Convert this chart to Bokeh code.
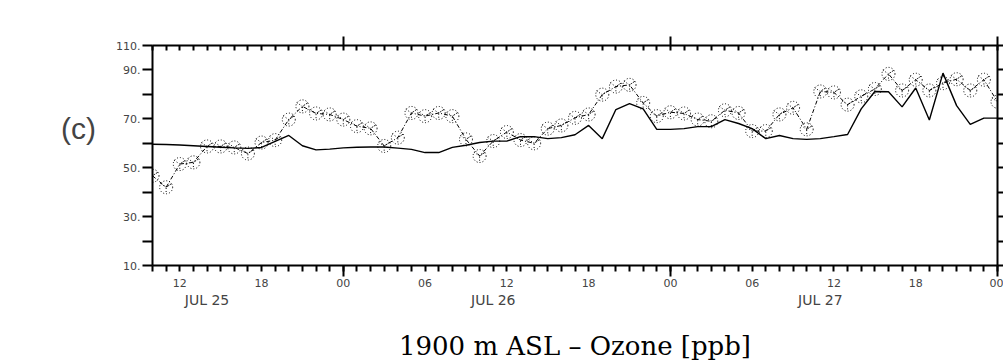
from bokeh.plotting import figure
from bokeh.models import FixedTicker, LinearAxis, Range1d
from bokeh.embed import file_html
from bokeh.resources import INLINE

# hours since JUL 25 00:00
hours = list(range(10, 73))
model = [59.6, 59.5, 59.3, 59.0, 58.7, 58.4, 58.1, 57.9, 58.3, 60.8,
         63.2, 59.0, 57.3, 57.6, 58.1, 58.4, 58.5, 58.5, 58.0, 57.5,
         56.2, 56.2, 58.3, 59.2, 60.3, 60.9, 60.9, 62.7, 62.7, 61.9,
         62.3, 63.5, 67.3, 61.9, 73.8, 76.2, 74.1, 65.7, 65.7, 66.0,
         66.8, 66.8, 69.7, 68.1, 66.0, 61.9, 63.2, 61.9, 61.6, 61.9,
         62.7, 63.6, 74.1, 81.2, 81.1, 74.9, 82.6, 69.5, 88.7, 75.4,
         67.7, 70.3, 70.3]
obs = [46.7, 42.0, 51.5, 52.2, 58.7, 58.7, 58.3, 55.8, 60.3, 61.3,
       69.7, 75.1, 72.2, 71.8, 69.7, 67.0, 66.1, 58.9, 62.3, 72.4,
       71.1, 72.4, 71.1, 61.6, 54.8, 60.9, 64.6, 61.3, 60.0, 66.0,
       67.3, 70.4, 71.8, 79.9, 83.2, 83.9, 76.5, 71.1, 72.7, 72.2,
       69.7, 69.0, 73.5, 72.4, 65.0, 65.0, 71.8, 74.5, 65.7, 81.2,
       80.8, 75.8, 79.2, 82.2, 88.4, 81.6, 86.0, 81.6, 84.6, 86.2,
       81.6, 86.0, 77.0]

y_ticks = [10, 30, 50, 70, 90, 100]
y_tick_labels = ["10.", "30.", "50.", "70.", "90.", "110."]
y_minor = [20, 40, 60, 80]
x_major = [12, 18, 24, 30, 36, 42, 48, 54, 60, 66, 72]
x_major_labels = ["12", "18", "00", "06", "12", "18", "00", "06", "12", "18", "00"]
x_midnights = [24, 48, 72]
day_pos = [14, 35, 59]
day_labels = ["JUL 25", "JUL 26", "JUL 27"]
title_text = "1900 m ASL \u2013 Ozone [ppb]"
panel_tag = "(c)"

p = figure(width=1003, height=363, x_range=Range1d(10, 72), y_range=Range1d(10, 100),
           output_backend="svg", toolbar_location=None,
           x_axis_location=None, y_axis_location=None,
           min_border_left=152, min_border_right=6, min_border_top=45, min_border_bottom=96)
p.xgrid.visible = False
p.ygrid.visible = False
p.outline_line_color = None
p.background_fill_color = "white"
p.border_fill_color = "white"

tick_font = "DejaVu Sans"


def blank(ticks):
    return {t: "" for t in ticks}


# left axis (the panel tag is its horizontal axis label, lifted by a blank 2nd line)
ya = LinearAxis(ticker=FixedTicker(ticks=y_ticks, minor_ticks=y_minor),
                major_label_overrides={t: l for t, l in zip(y_ticks, y_tick_labels)},
                major_tick_out=10, major_tick_in=0, minor_tick_out=10, minor_tick_in=0,
                axis_line_width=2, major_tick_line_width=2, minor_tick_line_width=2,
                major_label_text_font=tick_font, major_label_text_font_size="11px",
                major_label_standoff=2,
                axis_label=panel_tag + "\n ", axis_label_orientation="horizontal",
                axis_label_text_font="Liberation Sans", axis_label_text_font_size="30px",
                axis_label_text_font_style="normal", axis_label_text_line_height=1.65,
                axis_label_standoff=17)
p.add_layout(ya, "left")

# right axis
yr = LinearAxis(ticker=FixedTicker(ticks=y_ticks + y_minor, minor_ticks=[]),
                major_label_overrides=blank(y_ticks + y_minor),
                major_tick_out=6, major_tick_in=0, minor_tick_out=0, minor_tick_in=0,
                axis_line_width=2, major_tick_line_width=2,
                major_label_text_font_size="1px", major_label_standoff=0)
p.add_layout(yr, "right")

# top axis
xt = LinearAxis(ticker=FixedTicker(ticks=x_midnights, minor_ticks=hours),
                major_label_overrides=blank(x_midnights),
                major_tick_out=9, major_tick_in=0, minor_tick_out=0, minor_tick_in=5,
                axis_line_width=2, major_tick_line_width=2, minor_tick_line_width=2,
                major_label_text_font_size="1px", major_label_standoff=0)
p.add_layout(xt, "above")

# bottom axis: tick marks
xb = LinearAxis(ticker=FixedTicker(ticks=x_midnights, minor_ticks=hours),
                major_label_overrides=blank(x_midnights),
                major_tick_out=11, major_tick_in=0, minor_tick_out=6, minor_tick_in=0,
                axis_line_width=2, major_tick_line_width=2, minor_tick_line_width=2,
                major_label_text_font_size="1px", major_label_standoff=0)
p.add_layout(xb, "below")

# bottom axis: hour labels
xl = LinearAxis(ticker=FixedTicker(ticks=x_major, minor_ticks=[]),
                major_label_overrides={t: l for t, l in zip(x_major, x_major_labels)},
                major_tick_out=0, major_tick_in=0, axis_line_color=None,
                major_tick_line_color=None,
                major_label_text_font=tick_font, major_label_text_font_size="11px",
                major_label_standoff=2)
p.add_layout(xl, "below")

# bottom axis: day labels, with the plot title as its axis label
xd = LinearAxis(ticker=FixedTicker(ticks=day_pos, minor_ticks=[]),
                major_label_overrides={t: l for t, l in zip(day_pos, day_labels)},
                major_tick_out=0, major_tick_in=0, axis_line_color=None,
                major_tick_line_color=None,
                major_label_text_font=tick_font, major_label_text_font_size="14px",
                major_label_standoff=2,
                axis_label=title_text, axis_label_text_font="DejaVu Serif",
                axis_label_text_font_size="26px", axis_label_text_font_style="normal",
                axis_label_text_color="black", axis_label_standoff=20)
p.add_layout(xd, "below")

p.line(hours, model, line_color="black", line_width=1.4)
p.line(hours, obs, line_color="black", line_width=1, line_dash="4 2 1 2")
p.scatter(hours, obs, marker="circle_y", size=13, fill_color=None, line_color="black",
          line_width=1, line_dash="1 2")

open("out.html", "w").write(file_html(p, INLINE))
